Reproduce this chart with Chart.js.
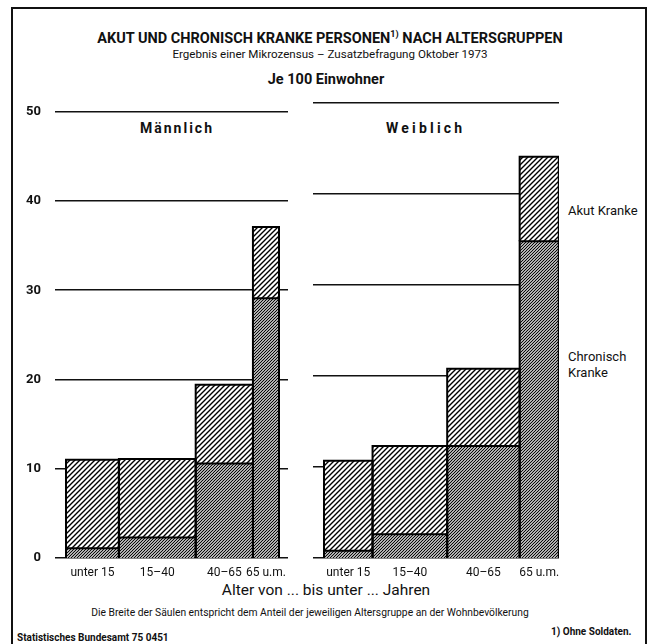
<!DOCTYPE html>
<html>
<head>
<meta charset="utf-8">
<script src="https://cdn.jsdelivr.net/npm/chart.js@4.4.1/dist/chart.umd.min.js"></script>
<style>
  body { margin: 0; background: #fff; width: 648px; height: 644px; overflow: hidden; position: relative;
         font-family: Roboto, 'Liberation Sans', sans-serif; color: #111; }
  #frame { position: absolute; left: 11px; top: 7px; width: 632px; height: 660px;
           border-left: 2px solid #111; border-top: 2px solid #111; border-right: 2px solid #111; }
  .t { position: absolute; left: 0; width: 648px; text-align: center; line-height: 1; white-space: nowrap; }
  .a { position: absolute; line-height: 1; white-space: nowrap; }
  .box { position: absolute; top: 90px; width: 280px; height: 500px; }
</style>
</head>
<body>
<div id="frame"></div>
<div class="t" style="top:30px;font-size:14.5px;font-weight:bold;width:660px">AKUT UND CHRONISCH KRANKE PERSONEN<sup style="font-size:9px">1)</sup> NACH ALTERSGRUPPEN</div>
<div class="t" style="top:49px;font-size:11.6px;width:660px">Ergebnis einer Mikrozensus – Zusatzbefragung Oktober 1973</div>
<div class="t" style="top:73px;font-size:14.5px;font-weight:bold;width:652px">Je 100 Einwohner</div>
<div class="a" style="left:140px;top:121px;font-size:14px;font-weight:bold;letter-spacing:2px">Männlich</div>
<div class="a" style="left:386px;top:121px;font-size:14px;font-weight:bold;letter-spacing:3.2px">Weiblich</div>
<div class="a" style="left:568px;top:204px;font-size:13px">Akut Kranke</div>
<div class="a" style="left:568px;top:349px;font-size:13px;line-height:16px">Chronisch<br>Kranke</div>
<div class="t" style="top:583px;font-size:15.5px;width:652px">Alter von ... bis unter ... Jahren</div>
<div class="t" style="top:608px;font-size:10.3px;width:620px">Die Breite der Säulen entspricht dem Anteil der jeweiligen Altersgruppe an der Wohnbevölkerung</div>
<div class="a" style="left:17px;top:633px;font-size:10px;font-weight:bold">Statistisches Bundesamt 75 0451</div>
<div class="a" style="left:551px;top:627px;font-size:10px;font-weight:bold">1) Ohne Soldaten.</div>

<div class="box" style="left:20px"><canvas id="male"></canvas></div>
<div class="box" style="left:300px"><canvas id="female"></canvas></div>

<script>
const ageGroups = ['unter 15', '15–40', '40–65', '65 u.m.'];
const yTicks = [0, 10, 20, 30, 40, 50];

// Säulenbreite: Wohnbevölkerung in Mill.
const maleWidth = [7.3, 10.6, 7.9, 3.6];
const femaleWidth = [6.7, 10.3, 10.0, 5.4];

// je 100 Einwohner
const maleChronic = [1.1, 2.3, 10.6, 29.1];
const maleAcute = [9.9, 8.8, 8.8, 8.0];
const femaleChronic = [0.8, 2.6, 12.3, 34.8];
const femaleAcute = [9.9, 9.7, 8.5, 9.3];

Chart.defaults.font.family = "Roboto, 'Liberation Sans', sans-serif";
Chart.defaults.color = '#111';

function hatch(size, width) {
  const c = document.createElement('canvas');
  c.width = size; c.height = size;
  const g = c.getContext('2d');
  g.fillStyle = '#fff';
  g.fillRect(0, 0, size, size);
  g.strokeStyle = '#000';
  g.lineWidth = width;
  g.beginPath();
  for (let k = -1; k <= 1; k++) {
    g.moveTo(k * size - 1, size + 1);
    g.lineTo(k * size + size + 1, -1);
  }
  g.stroke();
  return g.createPattern(c, 'repeat');
}
const acutePattern = hatch(5, 1.4);
const chronicPattern = hatch(3, 1.2);

function rect(x0, x1, lo, hi) {
  return [{x: x0, y: lo}, {x: x0, y: hi}, {x: x1, y: hi}, {x: x1, y: lo}];
}

function buildSets(widths, chronic, acute) {
  const chron = [], ac = [];
  let x = 0;
  widths.forEach((w, i) => {
    const c = chronic[i], t = chronic[i] + acute[i];
    chron.push({ data: rect(x, x + w, 0, c), backgroundColor: chronicPattern });
    ac.push({ data: rect(x, x + w, c, t), backgroundColor: acutePattern });
    x += w;
  });
  return chron.concat(ac).map(d => Object.assign(d, {
    borderColor: '#000', borderWidth: 2, fill: 'origin', pointRadius: 0, pointHoverRadius: 0, tension: 0
  }));
}

function centers(widths) {
  let x = 0;
  return widths.map(w => { const c = x + w / 2; x += w; return c; });
}

function makeChart(id, widths, chronic, acute, opts) {
  const mids = centers(widths);
  return new Chart(document.getElementById(id), {
    type: 'line',
    data: { datasets: buildSets(widths, chronic, acute) },
    options: {
      responsive: true,
      maintainAspectRatio: false,
      animation: false,
      events: [],
      layout: { padding: { top: 13, right: opts.padRight, left: 0, bottom: 0 } },
      plugins: {
        legend: { display: false },
        tooltip: { enabled: false },
        filler: { drawTime: 'beforeDatasetsDraw' }
      },
      scales: {
        x: {
          type: 'linear',
          min: -1.52,
          max: opts.xMax,
          grid: { display: false },
          border: { display: false },
          afterBuildTicks: s => { s.ticks = mids.map(v => ({ value: v })); },
          afterFit: s => { s.height = 32; },
          ticks: {
            autoSkip: false, maxRotation: 0, padding: 0,
            font: { size: 12 },
            callback: (v, i) => ageGroups[i]
          }
        },
        y: {
          min: 0,
          max: 50,
          afterBuildTicks: s => { s.ticks = yTicks.map(v => ({ value: v })); },
          afterFit: s => { s.width = opts.yWidth; },
          grid: { color: '#111', lineWidth: 1.6, drawTicks: false },
          border: { display: false },
          ticks: {
            display: opts.yLabels, padding: 14,
            font: { size: 13, weight: 'bold' }
          }
        }
      }
    }
  });
}

makeChart('male', maleWidth, maleChronic, maleAcute, { xMax: 30.64, yWidth: 35, yLabels: true, padRight: 12 });
makeChart('female', femaleWidth, femaleChronic, femaleAcute, { xMax: 32.43, yWidth: 13, yLabels: false, padRight: 21 });
</script>
</body>
</html>
